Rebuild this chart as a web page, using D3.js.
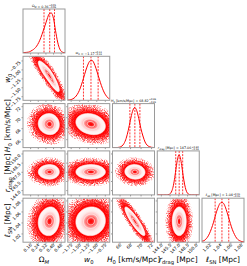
<!DOCTYPE html>
<html><head><meta charset="utf-8">
<script src="https://cdn.jsdelivr.net/npm/d3@7"></script>
<style>body{margin:0;background:#fff}svg{display:block}text{font-family:"DejaVu Sans",sans-serif;fill:#000}</style>
</head><body><svg id="c" width="247" height="266"></svg>
<script>
// ---- data ----
const paramSymbols = ["Ω","w","H","r","ℓ"];
const paramSubs = ["M","0","0","drag","SN"];
const paramUnits = ["","","[km/s/Mpc]","[Mpc]","[Mpc]"];
const medians = [0.36,-1.17,68.82,147.06,1.043];
const errPlus = [0.05,0.21,0.96,0.60,0.013];
const errMinus = [0.06,0.22,0.95,0.59,0.013];
const ranges = [[0.08,0.52],[-1.85,-0.62],[64.56,72.56],[143.3,150.5],[1.005,1.085]];
const tickValues = [[0.16,0.24,0.32,0.40,0.48],[-1.75,-1.5,-1.25,-1.0,-0.75],[66,68,70,72],[144,145.5,147,148.5,150],[1.02,1.04,1.06,1.08]];
const tickFormats = [".2f",".2f",".0f",".1f",".2f"];
const histOmegaM = [0.01,0.015,0.02,0.04,0.07,0.11,0.17,0.26,0.38,0.53,0.68,0.84,0.97,0.99,0.86,0.55,0.27,0.10,0.03,0.01];
const histW0 = [0.007,0.017,0.038,0.078,0.144,0.244,0.385,0.552,0.73,0.88,0.98,1.0,0.93,0.79,0.62,0.45,0.30,0.18,0.10,0.05];
const histH0 = [0,0.001,0.003,0.0125,0.04,0.105,0.23,0.43,0.68,0.90,1.0,0.93,0.73,0.48,0.29,0.14,0.06,0.025,0.008,0.002];
const histRdrag = [0,0,0,0,0,0,0,0.003,0.0125,0.04,0.105,0.23,0.435,0.68,0.90,1.0,0.93,0.73,0.48,0.27,0.125,0.048,0.016,0.004,0,0,0,0,0,0];
const histLSN = [0.029,0.06,0.118,0.21,0.34,0.50,0.69,0.85,0.965,1.0,0.95,0.82,0.65,0.47,0.31,0.19,0.10,0.05,0.025,0.01];
const histograms = [histOmegaM,histW0,histH0,histRdrag,histLSN];
const correlations = [[1],[-0.9,1],[-0.05,-0.2,1],[0.0,0.0,-0.05,1],[0.1,0.05,-0.9,0.0,1]];

// ---- layout ----
const N = 5, L = 23, T = 9, PW = 42, PH = 44, GX = 2.75, GY = 3.3;
const red = "#ff0000";
const svg = d3.select("#c");
const defs = svg.append("defs");
const colX = j => L + j*(PW+GX);
const rowY = i => T + i*(PH+GY);
const xS = j => d3.scaleLinear().domain(ranges[j]).range([colX(j), colX(j)+PW]);
const yS = i => d3.scaleLinear().domain(ranges[i]).range([rowY(i)+PH, rowY(i)]);

// speckle texture for the sparse outer part of the sample clouds
[1,2,3].forEach(s=>{
  const f = defs.append("filter").attr("id","spk"+s).attr("x","-5%").attr("y","-5%").attr("width","110%").attr("height","110%");
  f.append("feTurbulence").attr("type","fractalNoise").attr("baseFrequency",0.9).attr("numOctaves",1).attr("seed",s*7).attr("result","nz");
  f.append("feColorMatrix").attr("in","nz").attr("type","matrix")
    .attr("values","0 0 0 0 1  0 0 0 0 0  0 0 0 0 0  5 0 0 0 -2.3").attr("result","m");
  f.append("feComposite").attr("in","SourceGraphic").attr("in2","m").attr("operator","in");
});

function mathLabel(sel, k, fs, withUnit){
  sel.append("tspan").text(paramSymbols[k]).style("font-style", k===0?"normal":"italic");
  sel.append("tspan").attr("dy", fs*0.28).attr("font-size", fs*0.7).text(paramSubs[k])
     .style("font-style", k===0?"italic":"normal");
  sel.append("tspan").attr("dy", -fs*0.28).text(withUnit && paramUnits[k] ? " "+paramUnits[k] : "");
}

const outerLevels = [0.0004,0.0015,0.004,0.01,0.03,0.07];
const outerOpac = [0.5,0.6,0.6,0.5,0.6,0.8];
const outerSpeckle = [1,2,3,0,0,0];
const innerLevels = d3.range(0.135, 1.0, 0.025);
const lineLevels = [0.135,0.325,0.607,0.882];
const col = d3.interpolateRgb("#ffffff", "#ff0000");

// ---- panels ----
for (let i=0;i<N;i++){
  for (let j=0;j<=i;j++){
    const x0 = colX(j), y0 = rowY(i);
    const g = svg.append("g");
    const cid = "clip"+i+"_"+j;
    defs.append("clipPath").attr("id",cid).append("rect").attr("x",x0).attr("y",y0).attr("width",PW).attr("height",PH);
    const inner = g.append("g").attr("clip-path","url(#"+cid+")");
    const xs = xS(j);
    if (i===j){
      const h = histograms[i];
      const ys = d3.scaleLinear().domain([0, 1.1*d3.max(h)]).range([y0+PH, y0]);
      const [lo,hi] = ranges[i];
      const pts = h.map((v,k)=>[lo+(k+0.5)/h.length*(hi-lo), v]);
      pts.unshift([lo, h[0]]); pts.push([hi, h[h.length-1]]);
      inner.append("path").attr("d", d3.line().x(d=>xs(d[0])).y(d=>ys(d[1])).curve(d3.curveMonotoneX)(pts))
        .attr("fill","none").attr("stroke",red).attr("stroke-width",1);
      [medians[i]-errMinus[i], medians[i], medians[i]+errPlus[i]].forEach(q=>{
        inner.append("line").attr("x1",xs(q)).attr("x2",xs(q)).attr("y1",y0).attr("y2",y0+PH)
          .attr("stroke",red).attr("stroke-width",0.8).attr("stroke-dasharray","2,1.2");
      });
    } else {
      const ys = yS(i);
      const n = 90;
      const [lx,hx] = ranges[j], [ly,hy] = ranges[i];
      const rho = correlations[i][j];
      const vals = new Array(n*n);
      for (let gy=0; gy<n; gy++) for (let gx=0; gx<n; gx++){
        const xv = lx+(gx+0.5)/n*(hx-lx), yv = ly+(gy+0.5)/n*(hy-ly);
        const zx = (xv-medians[j])/(xv<medians[j]?errMinus[j]:errPlus[j]);
        const zy = (yv-medians[i])/(yv<medians[i]?errMinus[i]:errPlus[i]);
        const r2 = (zx*zx - 2*rho*zx*zy + zy*zy)/(1-rho*rho);
        vals[gx+gy*n] = Math.exp(-0.5*r2);
      }
      const proj = d3.geoTransform({point(px,py){ this.stream.point(xs(lx+px/n*(hx-lx)), ys(ly+py/n*(hy-ly))); }});
      const path = d3.geoPath(proj);
      const cont = d3.contours().size([n,n]);
      cont.thresholds(outerLevels)(vals).forEach((c,k)=>{
        const p = inner.append("path").attr("d",path(c)).attr("fill",red).attr("fill-opacity",outerOpac[k]);
        if (outerSpeckle[k]) p.attr("filter","url(#spk"+outerSpeckle[k]+")");
      });
      cont.thresholds(innerLevels)(vals).forEach(c=>{
        const t = Math.pow((c.value-0.135)/0.865, 2.2);
        inner.append("path").attr("d",path(c)).attr("fill",col(0.04+0.96*t));
      });
      cont.thresholds(lineLevels)(vals).forEach(c=>{
        inner.append("path").attr("d",path(c)).attr("fill","none").attr("stroke","#fff0f0").attr("stroke-width",0.8);
      });
      tickValues[i].forEach(t=>{
        g.append("line").attr("x1",x0-1.5).attr("x2",x0).attr("y1",ys(t)).attr("y2",ys(t)).attr("stroke","#333").attr("stroke-width",0.5);
        if (j===0){
          g.append("text").attr("font-size",4.3).attr("text-anchor","end")
            .attr("transform","translate("+(x0-2)+","+(ys(t)+1.8)+") rotate(-45)")
            .text(d3.format(tickFormats[i])(t));
        }
      });
    }
    tickValues[j].forEach(t=>{
      g.append("line").attr("x1",xs(t)).attr("x2",xs(t)).attr("y1",y0+PH).attr("y2",y0+PH+1.5).attr("stroke","#333").attr("stroke-width",0.5);
      if (i===N-1){
        g.append("text").attr("font-size",4.3).attr("text-anchor","end")
          .attr("transform","translate("+(xs(t)+1.5)+","+(y0+PH+3.2)+") rotate(-45)")
          .text(d3.format(tickFormats[j])(t));
      }
    });
    g.append("rect").attr("x",x0).attr("y",y0).attr("width",PW).attr("height",PH)
      .attr("fill","none").attr("stroke","#9a9a9a").attr("stroke-width",1);
  }
}

// ---- titles (drawn last, on top) ----
const titles = svg.append("g");
for (let i=0;i<N;i++){
  const fs = 3.3, x0 = colX(i), y0 = rowY(i);
  const tg = titles.append("g");
  const main = tg.append("text").attr("font-size",fs).attr("x",0).attr("y",0);
  mathLabel(main, i, fs, true);
  main.append("tspan").text(" = "+d3.format(".2f")(medians[i]));
  const w = main.node().getComputedTextLength();
  const sup = tg.append("text").attr("font-size",fs*0.7).attr("x",w+0.3).attr("y",-fs*0.4).text("+"+d3.format(".2f")(errPlus[i]));
  const sub = tg.append("text").attr("font-size",fs*0.7).attr("x",w+0.3).attr("y",fs*0.35).text("−"+d3.format(".2f")(errMinus[i]));
  const tw = w+0.3+Math.max(sup.node().getComputedTextLength(), sub.node().getComputedTextLength());
  tg.attr("transform","translate("+(x0+PW/2-tw/2)+","+(y0-2)+")");
}

// ---- axis labels ----
const afs = 7.5;
for (let j=0;j<N;j++){
  const t = svg.append("text").attr("font-size",afs).attr("text-anchor","middle")
    .attr("x", colX(j)+PW/2).attr("y", 262);
  mathLabel(t, j, afs, true);
}
for (let i=1;i<N;i++){
  const t = svg.append("text").attr("font-size",afs).attr("text-anchor","middle")
    .attr("transform","translate(10,"+(rowY(i)+PH/2)+") rotate(-90)");
  mathLabel(t, i, afs, true);
}
</script></body></html>
